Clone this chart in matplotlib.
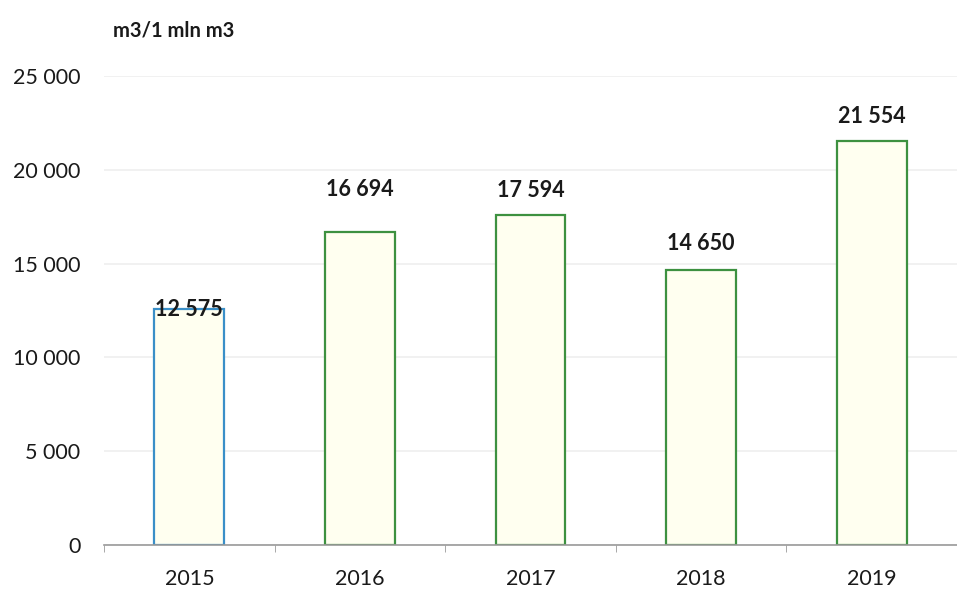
import matplotlib.pyplot as plt
from matplotlib.ticker import FuncFormatter

years = ["2015", "2016", "2017", "2018", "2019"]
values = [12575, 16694, 17594, 14650, 21554]

# label lift above each bar top, in points (labels were nudged by hand)
label_lift = [-8, 23, 10, 12, 10]
edge_colors = ["#3a8fc8", "#3d9140", "#3d9140", "#3d9140", "#3d9140"]

plt.rcParams["font.family"] = ["Lato", "DejaVu Sans"]


def fmt_thousands(v, _pos):
    return f"{int(v):,}".replace(",", " ")


fig = plt.figure(figsize=(9.57, 5.91), dpi=100)
ax = fig.add_axes([0.1087, 0.0778, 0.8913, 0.7936])

x = range(len(years))
ax.bar(x, values, width=0.41, color="#fffff0", edgecolor=edge_colors, linewidth=1.6, zorder=2)

for i, v in enumerate(values):
    ax.annotate(fmt_thousands(v, None), (i, v), xytext=(0, label_lift[i]),
                textcoords="offset points", ha="center", va="bottom",
                fontsize=15.5, fontweight="bold", color="#1a1a1a", zorder=3)

ax.set_xlim(-0.5, 4.465)
ax.set_ylim(0, 25000)
ax.set_yticks(range(0, 25001, 5000))
ax.yaxis.set_major_formatter(FuncFormatter(fmt_thousands))
ax.set_xticks(list(x))
ax.set_xticklabels(years)
ax.set_xticks([-0.5, 0.5, 1.5, 2.5, 3.5, 4.5], minor=True)

ax.tick_params(axis="y", length=0, pad=17, labelsize=15.5, labelcolor="#1a1a1a")
ax.tick_params(axis="x", which="major", length=0, pad=17, labelsize=15.5, labelcolor="#1a1a1a")
ax.tick_params(axis="x", which="minor", length=5, color="#9a9a9a", direction="out")

for side in ["top", "right", "left"]:
    ax.spines[side].set_visible(False)
ax.spines["bottom"].set_color("#9a9a9a")
ax.spines["bottom"].set_linewidth(1.2)

ax.grid(axis="y", color="#efefef", linewidth=1.2, zorder=0)
ax.set_axisbelow(True)

fig.text(0.118, 0.948, "m3/1 mln m3", fontsize=14.5, fontweight="bold", color="#1a1a1a", va="center")

fig.savefig("out.png", dpi=100)
